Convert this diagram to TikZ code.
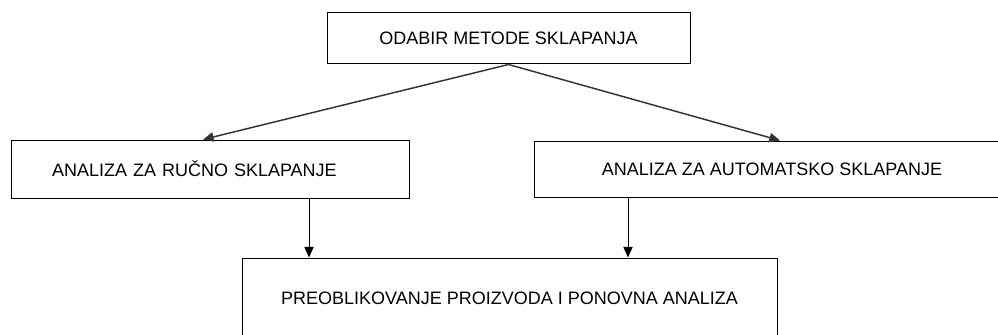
\documentclass[tikz,border=0pt]{standalone}
\usepackage{fontspec}
\setmainfont{Liberation Sans}
\usepackage{tikz}
\usetikzlibrary{arrows.meta}
\usetikzlibrary{positioning}

\begin{document}
\begin{tikzpicture}[x=0.75pt,y=-0.75pt]
\useasboundingbox (0,0) rectangle (998,335);
\clip (0,0) rectangle (998,335);
\begin{scope}[every node/.style={rectangle,draw,line width=0.75pt,inner sep=0pt,
              font=\fontsize{13.5}{16}\selectfont}]
    \node[minimum width=272.25pt, minimum height=38.25pt] (odabir) at (508.5,38.5) {ODABIR METODE SKLAPANJA};
    \node[text width=237pt, inner xsep=30.75pt, align=left, minimum height=43.5pt] (rucno) at (210,169) {ANALIZA ZA RUČNO SKLAPANJE};
    \node[minimum width=357pt, minimum height=42pt] (auto) at (772,169) {ANALIZA ZA AUTOMATSKO SKLAPANJE};
    \node[minimum width=401.25pt, minimum height=60pt] (preob) at (509.5,298) {PREOBLIKOVANJE PROIZVODA I PONOVNA ANALIZA};
\end{scope}

\coordinate (tl) at (203,0);
\coordinate (tr) at (780,0);
\coordinate (dl) at (309,0);
\coordinate (dr) at (628,0);

\begin{scope}[>={Triangle[length=8pt,width=7pt]},
              every edge/.style={draw=black,line width=0.75pt}]
    \path [->] (odabir.south) edge [draw=black!80,line width=1.1pt] (rucno.north -| tl);
    \path [->] (odabir.south) edge [draw=black!80,line width=1.1pt] (auto.north -| tr);
    \path [->] (rucno.south -| dl) edge (preob.north -| dl);
    \path [->] (auto.south -| dr) edge (preob.north -| dr);
\end{scope}
\end{tikzpicture}
\end{document}
